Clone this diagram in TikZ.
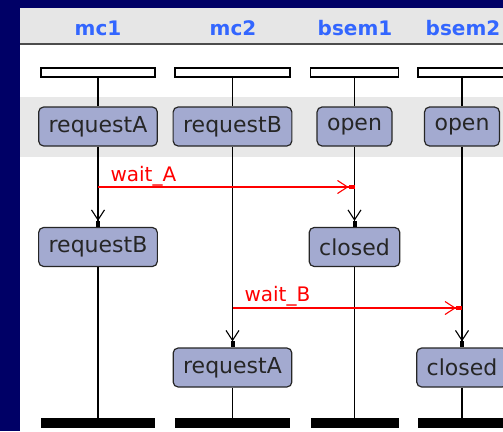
\documentclass[tikz,border=0pt]{standalone}
\usepackage{fontspec}
\setmainfont{DejaVu Sans}
\usetikzlibrary{arrows.meta}
\definecolor{navybg}{HTML}{000066}
\definecolor{headbg}{HTML}{E6E6E6}
\definecolor{bandbg}{HTML}{E8E8E8}
\definecolor{statefill}{HTML}{A3AAD0}
\definecolor{headtxt}{HTML}{3366FF}
\definecolor{msgred}{HTML}{FF0000}
\tikzset{
  state/.style={draw=black!85, line width=1.2pt, fill=statefill, rounded corners=5pt,
    minimum height=39pt, inner xsep=10pt, inner ysep=0pt,
    font=\fontsize{22}{24}\selectfont, text=black!85},
  topbar/.style={draw=black, line width=1.1pt, fill=white, minimum height=9pt, inner sep=0pt},
  botbar/.style={fill=black, minimum height=10pt, inner sep=0pt},
  head/.style={font=\fontsize{20}{24}\selectfont\bfseries, text=headtxt, anchor=base},
  lbl/.style={font=\fontsize{20}{24}\selectfont, text=msgred, anchor=base west},
  life/.style={draw=black, line width=1.4pt},
  tip/.style={-{Straight Barb[length=10pt,width=13pt,line width=1.1pt]Square[length=6pt,width=4pt]}},
  msg/.style={draw=msgred, line width=1.3pt, tip}
}
\begin{document}
\begin{tikzpicture}[x=1pt,y=-1pt]
  \useasboundingbox (0,0) rectangle (503,431);
  \fill[navybg] (0,0) rectangle (503,431);
  \clip (20,8) rectangle (503,431);
  \fill[white] (20,8) rectangle (503,431);
  % header strip with lifeline titles
  \fill[headbg] (20,8) rectangle (503,44);
  \draw[black!70, line width=1.6pt] (20,44) -- (503,44);
  \node[head] (h1) at (98,35) {mc1};
  \node[head] (h2) at (233,35) {mc2};
  \node[head] (h3) at (355,35) {bsem1};
  \node[head] (h4) at (463,35) {bsem2};
  % band behind the initial states
  \fill[bandbg] (20,97) rectangle (503,157);

  % start bars
  \node[topbar, minimum width=114pt] (s1) at (98,72.5) {};
  \node[topbar, minimum width=115pt] (s2) at (232.5,72.5) {};
  \node[topbar, minimum width=88pt] (s3) at (354.5,72.5) {};
  \node[topbar, minimum width=88pt] (s4) at (462,72.5) {};
  % end bars
  \node[botbar, minimum width=114pt] (e1) at (98,423) {};
  \node[botbar, minimum width=115pt] (e2) at (232.5,423) {};
  \node[botbar, minimum width=88pt] (e3) at (354.5,423) {};
  \node[botbar, minimum width=88pt] (e4) at (462,423) {};

  % states
  \node[state] (m1a) at (98,126.5) {requestA};
  \node[state] (m2a) at (232.5,126.5) {requestB};
  \node[state] (b1a) at (354.5,126.5) {open};
  \node[state] (b2a) at (462,126.5) {open};
  \node[state] (m1b) at (98,247) {requestB};
  \node[state] (b1b) at (354.5,247) {closed};
  \node[state] (m2b) at (232.5,367.5) {requestA};
  \node[state] (b2b) at (462,367.5) {closed};

  % lifelines
  \draw[life] (s1) -- (m1a);
  \draw[life, tip] (m1a) -- (m1b);
  \draw[life] (m1b) -- (e1);
  \draw[life] (s2) -- (m2a);
  \draw[life, tip] (m2a) -- (m2b);
  \draw[life] (m2b) -- (e2);
  \draw[life] (s3) -- (b1a);
  \draw[life, tip] (b1a) -- (b1b);
  \draw[life] (b1b) -- (e3);
  \draw[life] (s4) -- (b2a);
  \draw[life, tip] (b2a) -- (b2b);
  \draw[life] (b2b) -- (e4);

  % messages
  \coordinate (wa0) at (98,187);
  \coordinate (wa1) at (354.5,187);
  \coordinate (wb0) at (232.5,308);
  \coordinate (wb1) at (462,308);
  \draw[msg] (wa0) -- (wa1);
  \draw[msg] (wb0) -- (wb1);
  \node[lbl] (la) at (107,181) {wait\_A};
  \node[lbl] (lb) at (241,301) {wait\_B};
\end{tikzpicture}
\end{document}
